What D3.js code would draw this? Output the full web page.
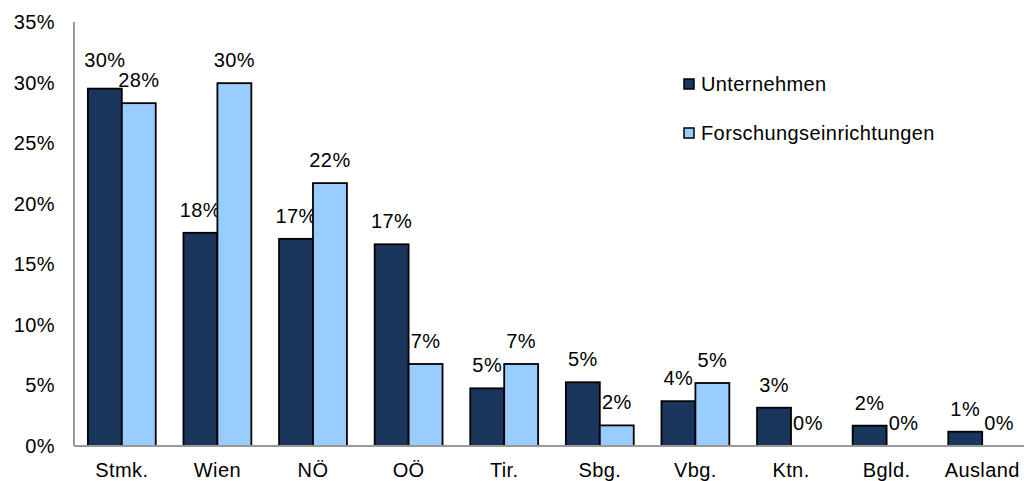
<!DOCTYPE html>
<html><head><meta charset="utf-8">
<script src="https://cdn.jsdelivr.net/npm/d3@7"></script>
<style>
body{margin:0;background:#fff;}
text{font-family:"Liberation Sans",Arial,sans-serif;fill:#000;}
</style></head>
<body>
<svg id="chart" width="1024" height="481"></svg>
<script>
const categories = ["Stmk.","Wien","NÖ","OÖ","Tir.","Sbg.","Vbg.","Ktn.","Bgld.","Ausland"];
const seriesNames = ["Unternehmen","Forschungseinrichtungen"];
const unternehmen = [29.5,17.6,17.1,16.65,4.76,5.26,3.7,3.16,1.68,1.18];
const forschung = [28.3,29.95,21.7,6.77,6.77,1.7,5.2,0,0,0];
const yTicks = [0,5,10,15,20,25,30,35];
const colors = ["#1b365d","#99ccff"];

(function(){
const svg = d3.select("#chart");
const pLeft = 74, pRight = 1030, pTop = 22, pBottom = 446;
const x = d3.scaleBand().domain(categories).range([pLeft,pRight]).paddingInner(0.29).paddingOuter(0.145);
const xs = d3.scaleBand().domain([0,1]).range([0,x.bandwidth()]);
const y = d3.scaleLinear().domain([0,35]).range([pBottom,pTop]);
const fs = "20px", ls = "0.4px";

svg.append("g").selectAll("text").data(yTicks).join("text")
  .attr("x",55).attr("y",d=>y(d)).attr("dy","0.35em")
  .attr("text-anchor","end").style("font-size",fs).style("letter-spacing",ls)
  .text(d=>d+"%");

const data = categories.map((c,i)=>({c, v:[unternehmen[i],forschung[i]]}));
const g = svg.append("g");
data.forEach((d,i)=>{
  d.v.forEach((v,s)=>{
    const bx = x(d.c)+xs(s);
    g.append("rect").attr("x",bx).attr("y",y(v)).attr("width",xs.bandwidth())
      .attr("height",pBottom-y(v)).attr("fill",colors[s])
      .attr("stroke","#000").attr("stroke-width",1.8);
    const off = (i===0 && s===0) ? 22 : 16;
    g.append("text").attr("x",bx+xs.bandwidth()/2).attr("y",y(v)-off)
      .attr("text-anchor","middle").style("font-size",fs).style("letter-spacing",ls)
      .text(Math.round(v)+"%");
  });
});

svg.append("line").attr("x1",pLeft).attr("x2",pLeft).attr("y1",pTop).attr("y2",pBottom)
  .attr("stroke","#999").attr("stroke-width",2);
svg.append("line").attr("x1",pLeft).attr("x2",1024).attr("y1",pBottom).attr("y2",pBottom)
  .attr("stroke","#999").attr("stroke-width",2);

svg.append("g").selectAll("text").data(categories).join("text")
  .attr("x",d=>x(d)+x.bandwidth()/2).attr("y",477)
  .attr("text-anchor","middle").style("font-size",fs).style("letter-spacing",ls)
  .text(d=>d);

const leg = svg.append("g");
seriesNames.forEach((n,i)=>{
  const ly = 84 + i*49;
  leg.append("rect").attr("x",684).attr("y",ly-5).attr("width",10).attr("height",10)
    .attr("fill",colors[i]).attr("stroke","#000").attr("stroke-width",1.5);
  leg.append("text").attr("x",701).attr("y",ly).attr("dy","0.35em")
    .style("font-size",fs).style("letter-spacing",ls).text(n);
});
})();
</script>
</body></html>
